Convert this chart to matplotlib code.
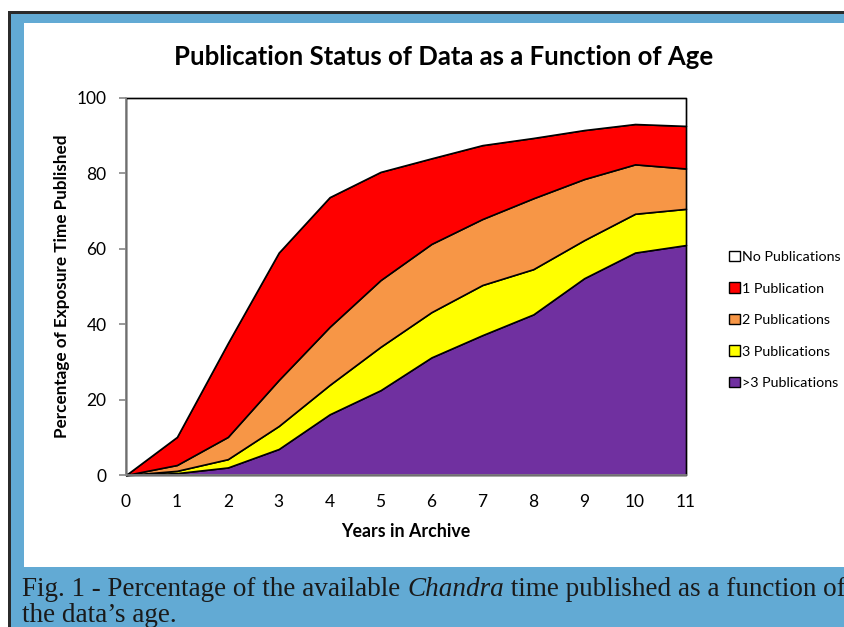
import matplotlib

matplotlib.use("Agg")

import matplotlib.pyplot as plt
from matplotlib.patches import Rectangle, Patch

plt.rcParams["font.family"] = ["Lato", "DejaVu Sans"]

# layer shares, percent of exposure time, per year in archive
years = [0, 1, 2, 3, 4, 5, 6, 7, 8, 9, 10, 11]
more_than_three = [0, 0.5, 2.0, 6.9, 16.1, 22.5, 31.2, 37.1, 42.6, 52.2, 59.0, 61.0]
three_pubs = [0, 0.6, 2.2, 6.1, 7.8, 11.5, 12.0, 13.3, 12.0, 10.1, 10.3, 9.6]
two_pubs = [0, 1.55, 5.9, 12.2, 15.4, 17.7, 18.1, 17.5, 18.8, 16.2, 13.1, 10.7]
one_pub = [0, 7.45, 24.9, 33.8, 34.4, 28.7, 22.7, 19.6, 16.0, 13.0, 10.7, 11.3]
no_pubs = [100 - a - b - c - d for a, b, c, d in
           zip(more_than_three, three_pubs, two_pubs, one_pub)]

labels = [">3 Publications", "3 Publications", "2 Publications",
          "1 Publication", "No Publications"]
colors = ["#7030a0", "#ffff00", "#f79646", "#ff0000", "#ffffff"]

W, H = 844, 627
fig = plt.figure(figsize=(W / 100, H / 100), dpi=100)
fig.patch.set_facecolor("white")


def fx(px):
    return px / W


def fy(py):
    return 1 - py / H


# frame: dark border, blue panel, white chart area
fig.patches.append(Rectangle((fx(8), 0), 1, fy(11), transform=fig.transFigure,
                             facecolor="#2b2b2b", edgecolor="none", zorder=0))
fig.patches.append(Rectangle((fx(10.5), 0), 1, fy(14), transform=fig.transFigure,
                             facecolor="#62aad4", edgecolor="none", zorder=0))
fig.patches.append(Rectangle((fx(24), fy(567)), 1, fy(23) - fy(567),
                             transform=fig.transFigure,
                             facecolor="white", edgecolor="none", zorder=0))

ax = fig.add_axes([fx(126), fy(475), fx(686) - fx(126), fy(98) - fy(475)])
ax.set_zorder(2)
ax.set_facecolor("none")

polys = ax.stackplot(years, more_than_three, three_pubs, two_pubs, one_pub,
                     no_pubs, colors=colors, edgecolor="black", linewidth=1.2)
for p in polys:
    p.set_clip_on(False)

ax.set_xlim(0, 11)
ax.set_ylim(0, 100)
ax.set_xticks(years)
ax.set_yticks([0, 20, 40, 60, 80, 100])
for side in ("top", "right"):
    ax.spines[side].set_visible(False)
for side in ("left", "bottom"):
    ax.spines[side].set_color("#868686")
    ax.spines[side].set_linewidth(1.2)
ax.tick_params(axis="both", colors="#868686", labelcolor="black",
               labelsize=12.5, width=1.2, direction="out")
ax.tick_params(axis="x", length=0, pad=14)
ax.tick_params(axis="y", length=5, pad=9)

ax.set_xlabel("Years in Archive", fontsize=12.8, fontweight="bold", labelpad=9)
ax.set_ylabel("Percentage of Exposure Time Published", fontsize=12.3,
              fontweight="bold", labelpad=5)

fig.text(fx(444), fy(57), "Publication Status of Data as a Function of Age",
         ha="center", va="center", fontsize=18.5, fontweight="bold")

handles = [Patch(facecolor=c, edgecolor="black", linewidth=1.0)
           for c in reversed(colors)]
leg = fig.legend(handles, list(reversed(labels)), loc="center left",
                 bbox_to_anchor=(fx(716), fy(320)), frameon=False, fontsize=10.3,
                 handlelength=0.75, handleheight=0.75, handletextpad=0.2,
                 labelspacing=1.35)
leg.set_zorder(3)

# caption in serif with italic Chandra
cap_kw = dict(fontsize=19.5, family=["Liberation Serif", "DejaVu Serif"],
              color="#1a1a1a", va="baseline")
t1 = fig.text(fx(22), fy(596), "Fig. 1 - Percentage of the available ", **cap_kw)
fig.canvas.draw()
r = fig.canvas.get_renderer()
x1 = t1.get_window_extent(r).x1 / W
t2 = fig.text(x1, fy(596), "Chandra", style="italic", **cap_kw)
x2 = t2.get_window_extent(r).x1 / W
fig.text(x2, fy(596), " time published as a function of", **cap_kw)
fig.text(fx(22), fy(622), "the data\u2019s age.", **cap_kw)

fig.savefig("out.png", dpi=100, facecolor=fig.get_facecolor())
